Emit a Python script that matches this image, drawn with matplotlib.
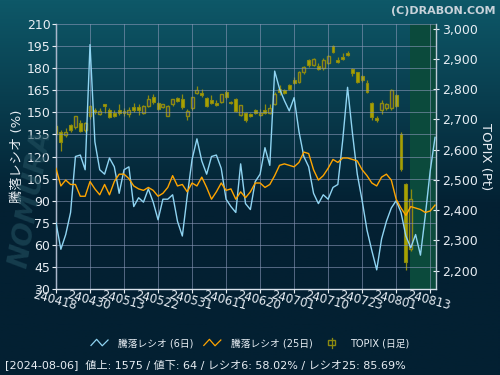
import numpy as np
import matplotlib
matplotlib.use("Agg")
import matplotlib.pyplot as plt
from matplotlib.lines import Line2D
from matplotlib.patches import Rectangle
from matplotlib.legend_handler import HandlerBase

plt.rcParams['font.family'] = ['DejaVu Sans', 'Noto Sans CJK JP']

# ---------------- data ----------------
tick_labels = ["240418", "240430", "240513", "240522", "240531", "240611",
               "240620", "240701", "240710", "240723", "240801", "240813"]
tick_idx = [0, 7, 14, 21, 28, 35, 42, 49, 56, 63, 70, 77]

ratio6 = [75, 57, 67, 82, 120, 121, 111, 196, 130, 111, 108, 119, 113, 95,
          111, 113, 86, 92, 89, 98, 89, 77, 91, 91, 94, 76, 66, 93, 118, 132,
          117, 108, 120, 121, 112, 91, 86, 82, 115, 88, 84, 103, 108, 126, 114,
          178, 166, 158, 151, 160, 137, 120, 113, 95, 88, 94, 91, 99, 101, 131,
          167, 136, 108, 90, 70, 56, 43, 64, 76, 85, 90, 82, 66, 58, 67, 53,
          80, 110, 133]
ratio25 = [112, 100, 104, 101, 101, 93, 93, 103, 98, 94, 101, 94, 103, 108,
           108, 105, 100, 98, 97, 99, 97, 93, 95, 99, 107, 100, 101, 96, 102,
           100, 106, 99, 91, 96, 102, 97, 98, 91, 96, 92, 96, 102, 102, 99,
           101, 107, 114, 115, 114, 113, 116, 123, 122, 111, 104, 107, 112,
           118, 116, 119, 119, 118, 117, 111, 107, 102, 100, 106, 108, 104,
           91, 85, 80, 86, 85, 84, 82, 83, 87]

topix_open = [2652, 2660, 2648, 2683, 2676, 2690, 2664, 2710, 2733, 2717, 2750,
              2733, 2720, 2730, 2727, 2718, 2741, 2740, 2720, 2744, 2773, 2754,
              2742, 2713, 2750, 2770, 2767, 2713, 2737, 2788, 2788, 2770, 2763,
              2756, 2758, 2791, 2758, 2767, 2716, 2722, 2719, 2730, 2714, 2733,
              2722, 2752, 2802, 2797, 2813, 2832, 2824, 2858, 2897, 2880, 2877,
              2869, 2888, 2943, 2897, 2908, 2921, 2866, 2858, 2843, 2821, 2754,
              2704, 2730, 2737, 2737, 2780, 2653, 2488, 2270]
topix_high = [2686, 2665, 2672, 2686, 2713, 2698, 2692, 2748, 2737, 2738, 2750,
              2738, 2730, 2750, 2737, 2742, 2753, 2750, 2747, 2780, 2785, 2758,
              2752, 2747, 2768, 2774, 2785, 2735, 2775, 2810, 2802, 2773, 2780,
              2763, 2785, 2799, 2762, 2771, 2749, 2724, 2721, 2736, 2736, 2750,
              2750, 2791, 2813, 2802, 2819, 2839, 2861, 2877, 2900, 2903, 2886,
              2902, 2914, 2947, 2908, 2921, 2927, 2869, 2858, 2847, 2830, 2758,
              2710, 2763, 2753, 2800, 2785, 2660, 2490, 2470]
topix_low = [2647, 2597, 2642, 2660, 2670, 2657, 2660, 2700, 2718, 2714, 2723,
             2704, 2707, 2715, 2713, 2708, 2726, 2715, 2717, 2740, 2752, 2730,
             2738, 2710, 2746, 2757, 2735, 2697, 2733, 2785, 2775, 2741, 2752,
             2743, 2755, 2769, 2750, 2724, 2713, 2692, 2708, 2719, 2710, 2719,
             2719, 2747, 2780, 2783, 2799, 2817, 2821, 2850, 2875, 2877, 2863,
             2863, 2885, 2921, 2888, 2897, 2910, 2843, 2821, 2824, 2788, 2699,
             2691, 2718, 2730, 2733, 2740, 2530, 2203, 2265]
topix_close = [2677, 2626, 2660, 2665, 2710, 2662, 2688, 2743, 2724, 2727, 2744,
               2707, 2713, 2723, 2720, 2730, 2730, 2733, 2743, 2767, 2757, 2734,
               2750, 2743, 2767, 2761, 2740, 2728, 2773, 2797, 2780, 2743, 2754,
               2749, 2783, 2774, 2753, 2728, 2747, 2699, 2711, 2723, 2722, 2722,
               2739, 2783, 2791, 2788, 2802, 2821, 2858, 2874, 2880, 2899, 2866,
               2897, 2910, 2924, 2890, 2901, 2914, 2854, 2824, 2830, 2791, 2708,
               2697, 2753, 2750, 2797, 2744, 2537, 2227, 2437]

highlight_start = 73   # 2024-08-06

# ---------------- figure ----------------
fig = plt.figure(figsize=(5, 3.75), dpi=100)

# background gradient
bg = fig.add_axes([0, 0, 1, 1], zorder=-10)
grad = np.linspace(0, 1, 256).reshape(-1, 1)
top = np.array([0x0e, 0x58, 0x68]) / 255
bot = np.array([0x03, 0x20, 0x32]) / 255
t = np.clip(grad / 0.55, 0, 1)
img = top[None, None, :] * (1 - t[..., None]) + bot[None, None, :] * t[..., None]
bg.imshow(img, aspect='auto', extent=[0, 1, 0, 1])
bg.set_axis_off()

# watermark
fig.text(0.062, 0.47, "NOMURA", rotation=80, fontsize=20, fontweight='bold',
         fontstyle='italic', color='#22505f', alpha=0.6, ha='center', va='center')

ax = fig.add_axes([0.112, 0.2293, 0.76, 0.7067])
ax2 = ax.twinx()
ax.set_zorder(ax2.get_zorder() + 1)
ax.patch.set_visible(False)
ax2.patch.set_facecolor('#1c3460')

n = len(ratio6)
x = np.arange(n)

ax.set_xlim(0, n - 0.8)
ax.set_ylim(30, 210)
ax2.set_ylim(2139, 3016)

# highlight region
ax2.axvspan(highlight_start - 0.1, n, color='#0b4a3c', zorder=0, lw=0)

# candles
cand_fill = '#a8a400'
cand_edge = '#8c8a10'
w = 0.6
for i in range(len(topix_open)):
    o, h, l, c = topix_open[i], topix_high[i], topix_low[i], topix_close[i]
    ax2.vlines(i, l, h, color=cand_edge, lw=0.9, zorder=2)
    lo, hi = min(o, c), max(o, c)
    if c < o:
        ax2.add_patch(Rectangle((i - w / 2, lo), w, max(hi - lo, 2),
                                facecolor=cand_fill, edgecolor=cand_edge, lw=0.8, zorder=3))
    else:
        ax2.add_patch(Rectangle((i - w / 2, lo), w, max(hi - lo, 2),
                                facecolor='#1c3460', edgecolor=cand_edge, lw=1.0, zorder=3))

# ratio lines
ax.plot(x, ratio6, color='#8fd4f2', lw=1.0, zorder=5)
ax.plot(x, ratio25, color='#ffa500', lw=1.0, zorder=6)

# grid
ax.set_yticks(np.arange(30, 211, 15))
ax.set_xticks(tick_idx)
ax.grid(True, color='#8a98b8', lw=0.7, alpha=0.6)
ax.set_axisbelow(False)

ax.set_xticklabels(tick_labels, rotation=-15, ha='center', fontsize=8.5,
                   color='#e8eef4', rotation_mode='anchor')
for lab in ax.get_xticklabels():
    lab.set_va('top')
ax.tick_params(axis='x', colors='#e8eef4', length=3, pad=1)
ax.tick_params(axis='y', colors='#e8eef4', labelsize=9, length=3, pad=1)
ax2.set_yticks([2200, 2300, 2400, 2500, 2600, 2700, 2800, 2900, 3000])
ax2.set_yticklabels(["2,200", "2,300", "2,400", "2,500", "2,600", "2,700",
                     "2,800", "2,900", "3,000"])
ax2.tick_params(axis='y', colors='#e8eef4', labelsize=9, length=5,
                direction='inout', pad=2)

for sp in ['left', 'bottom']:
    ax.spines[sp].set_color('#d8e0ea')
    ax.spines[sp].set_linewidth(1.0)
for sp in ['top', 'right']:
    ax.spines[sp].set_visible(False)
for sp in ['top', 'left', 'bottom']:
    ax2.spines[sp].set_visible(False)
ax2.spines['right'].set_color('#c0ccd8')
ax2.spines['right'].set_linewidth(1.0)

ax.set_ylabel("騰落レシオ (%)", color='#e8eef4', fontsize=9.5, labelpad=2)
ax2.set_ylabel("TOPIX (Pt)", color='#e8eef4', fontsize=9.5, rotation=270,
               labelpad=10)

fig.text(0.99, 0.985, "(C)DRABON.COM", ha='right', va='top', fontsize=8,
         fontweight='bold', color='#c8d2da')


# legend
class ZigZag(HandlerBase):
    def create_artists(self, legend, orig_handle, xdescent, ydescent,
                       width, height, fontsize, trans):
        xs = np.array([0.0, 0.33, 0.66, 1.0]) * width - xdescent
        ys = np.array([0.1, 1.0, 0.05, 0.9]) * height - ydescent
        return [Line2D(xs, ys, color=orig_handle.get_color(), lw=0.9,
                       transform=trans)]


class CandleIcon(HandlerBase):
    def create_artists(self, legend, orig_handle, xdescent, ydescent,
                       width, height, fontsize, trans):
        cx = width / 2 - xdescent
        wick = Line2D([cx, cx], [-ydescent - 1, height - ydescent + 1],
                      color=cand_edge, lw=0.9, transform=trans)
        body = Rectangle((cx - 2.2, height * 0.15 - ydescent), 4.4, height * 0.7,
                         facecolor='none', edgecolor=cand_edge, lw=1.0,
                         transform=trans)
        return [wick, body]


h1 = Line2D([], [], color='#8fd4f2')
h2 = Line2D([], [], color='#ffa500')
h3 = Line2D([], [], color=cand_edge)
leg = fig.legend([h1, h2, h3], ["騰落レシオ (6日)", "騰落レシオ (25日)", "TOPIX (日足)"],
                 handler_map={h1: ZigZag(), h2: ZigZag(), h3: CandleIcon()},
                 loc='center', bbox_to_anchor=(0.5, 0.085), ncol=3, frameon=False,
                 fontsize=7, labelcolor='#e8eef4', handlelength=1.75,
                 columnspacing=1.1, handletextpad=1.0)

fig.text(0.01, 0.028, "[2024-08-06]  値上: 1575 / 値下: 64 / レシオ6: 58.02% / レシオ25: 85.69%",
         ha='left', va='center', fontsize=8, color='#e8eef4')

fig.savefig("out.png", dpi=100, facecolor=fig.get_facecolor())
